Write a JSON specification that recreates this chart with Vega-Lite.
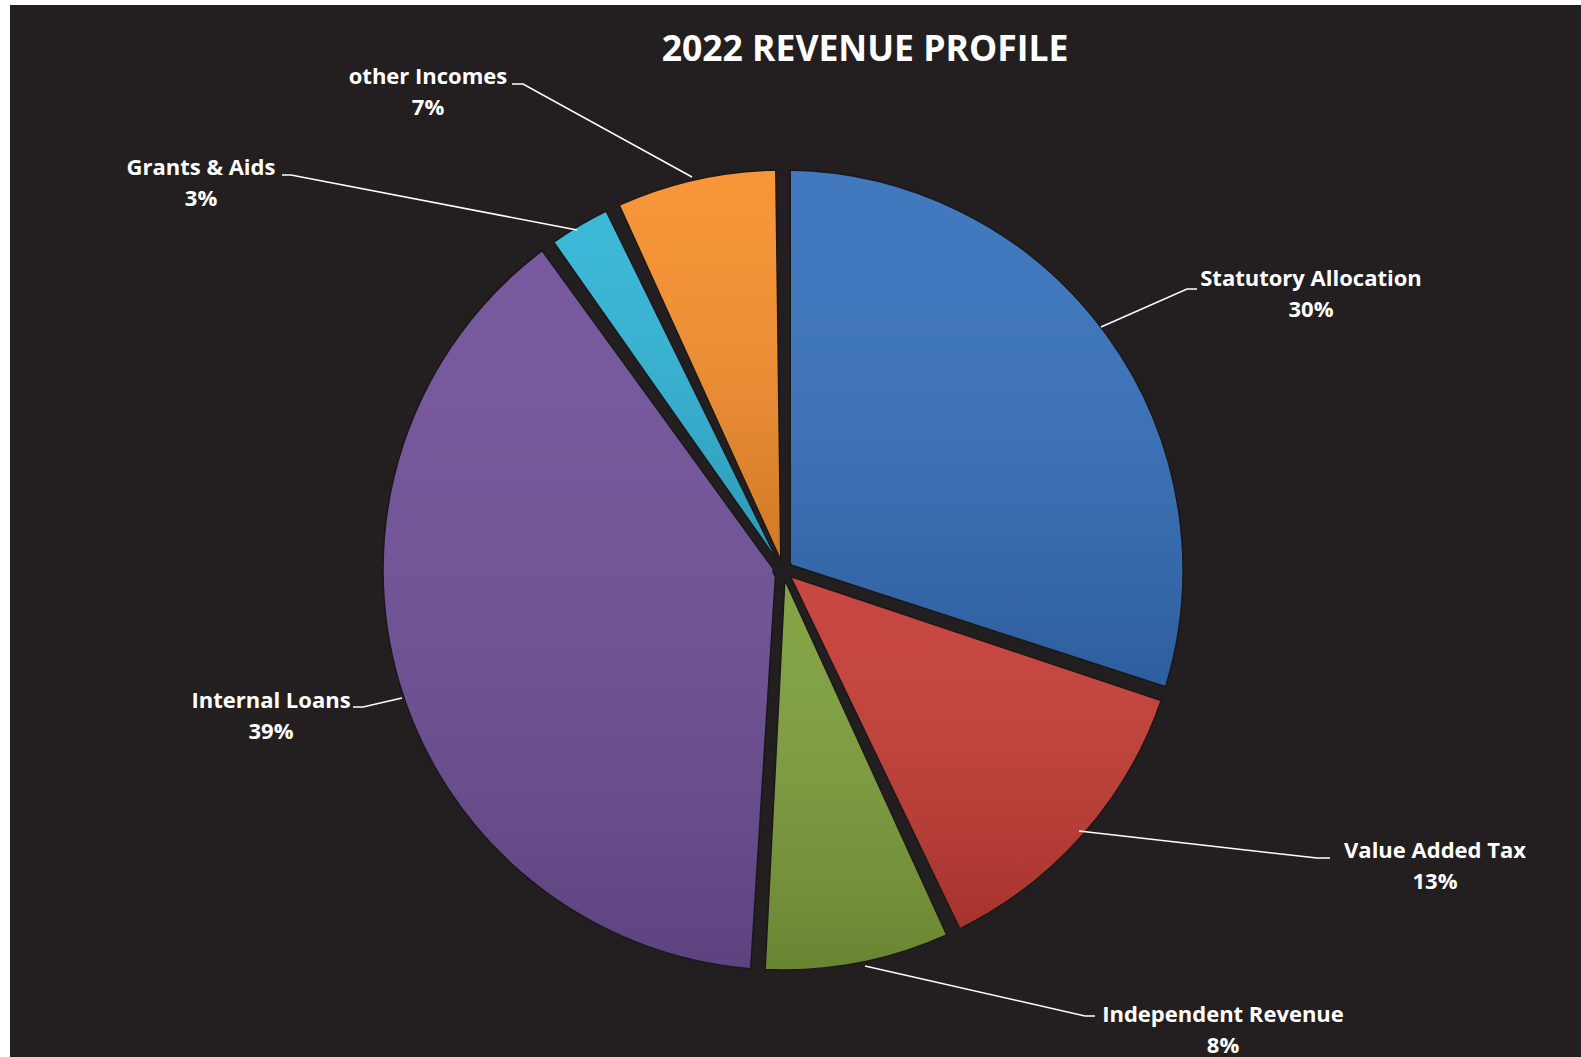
{
  "$schema": "https://vega.github.io/schema/vega-lite/v6.json",
  "width": 1581,
  "height": 1057,
  "autosize": {"type": "fit", "contains": "padding"},
  "padding": {"left": 10, "top": 5, "right": 0, "bottom": 0},
  "background": "#ffffff",
  "config": {"view": {"stroke": null, "fill": "#231f20"}},
  "datasets": {
    "slices": [
      {"name": "Statutory Allocation", "value": 0.30, "idx": 1},
      {"name": "Value Added Tax", "value": 0.13, "idx": 2},
      {"name": "Independent Revenue", "value": 0.08, "idx": 3},
      {"name": "Internal Loans", "value": 0.39, "idx": 4},
      {"name": "Grants & Aids", "value": 0.03, "idx": 5},
      {"name": "other Incomes", "value": 0.07, "idx": 6}
    ],
    "labels": [
      {"name": "Statutory Allocation", "value": 0.30, "lx": 5.28, "ly": 2.91},
      {"name": "Value Added Tax", "value": 0.13, "lx": 6.52, "ly": -2.81},
      {"name": "Independent Revenue", "value": 0.08, "lx": 4.40, "ly": -4.45},
      {"name": "Internal Loans", "value": 0.39, "lx": -5.12, "ly": -1.31},
      {"name": "Grants & Aids", "value": 0.03, "lx": -5.82, "ly": 4.02},
      {"name": "other Incomes", "value": 0.07, "lx": -3.55, "ly": 4.93}
    ],
    "leaders": [
      {"name": "Statutory Allocation", "seq": 1, "x": 4.14, "y": 2.81},
      {"name": "Statutory Allocation", "seq": 2, "x": 4.04, "y": 2.81},
      {"name": "Statutory Allocation", "seq": 3, "x": 3.18, "y": 2.43},
      {"name": "Value Added Tax", "seq": 1, "x": 5.47, "y": -2.88},
      {"name": "Value Added Tax", "seq": 2, "x": 5.34, "y": -2.88},
      {"name": "Value Added Tax", "seq": 3, "x": 2.96, "y": -2.61},
      {"name": "Independent Revenue", "seq": 1, "x": 3.12, "y": -4.46},
      {"name": "Independent Revenue", "seq": 2, "x": 3.02, "y": -4.46},
      {"name": "Independent Revenue", "seq": 3, "x": 0.82, "y": -3.96},
      {"name": "Internal Loans", "seq": 1, "x": -4.30, "y": -1.37},
      {"name": "Internal Loans", "seq": 2, "x": -4.20, "y": -1.37},
      {"name": "Internal Loans", "seq": 3, "x": -3.81, "y": -1.28},
      {"name": "Grants & Aids", "seq": 1, "x": -5.01, "y": 3.95},
      {"name": "Grants & Aids", "seq": 2, "x": -4.92, "y": 3.95},
      {"name": "Grants & Aids", "seq": 3, "x": -2.06, "y": 3.40},
      {"name": "other Incomes", "seq": 1, "x": -2.71, "y": 4.86},
      {"name": "other Incomes", "seq": 2, "x": -2.60, "y": 4.86},
      {"name": "other Incomes", "seq": 3, "x": -0.91, "y": 3.93}
    ],
    "titles": [
      {"title": "2022 REVENUE PROFILE", "tx": 0.82, "ty": 5.205}
    ]
  },
  "layer": [
    {
      "data": {"name": "slices"},
      "mark": {"type": "arc", "outerRadius": 400, "innerRadius": 10, "padAngle": 0.036},
      "encoding": {
        "x": {"datum": 0, "type": "quantitative", "scale": {"domain": [-7.73, 7.98], "nice": false, "zero": false}, "axis": null},
        "y": {"datum": 0, "type": "quantitative", "scale": {"domain": [-4.87, 5.65], "nice": false, "zero": false}, "axis": null},
        "theta": {"field": "value", "type": "quantitative", "stack": true},
        "order": {"field": "idx", "type": "quantitative"},
        "color": {
          "field": "name",
          "type": "nominal",
          "scale": {
            "domain": ["Statutory Allocation", "Value Added Tax", "Independent Revenue", "Internal Loans", "Grants & Aids", "other Incomes"],
            "range": ["#3570bb", "#c53c34", "#7d9e3a", "#6f4f98", "#30b4d6", "#f78f2c"]
          },
          "legend": null
        }
      }
    },
    {
      "data": {"name": "slices"},
      "mark": {
        "type": "arc",
        "outerRadius": 400,
        "innerRadius": 10,
        "padAngle": 0.036,
        "fill": {
          "gradient": "linear",
          "x1": 0, "y1": 0, "x2": 0, "y2": 1,
          "stops": [
            {"offset": 0, "color": "rgba(255,255,255,0.06)"},
            {"offset": 1, "color": "rgba(0,0,0,0.16)"}
          ]
        },
        "stroke": "#1b1819",
        "strokeWidth": 1.5
      },
      "encoding": {
        "x": {"datum": 0, "type": "quantitative", "scale": {"domain": [-7.73, 7.98], "nice": false, "zero": false}, "axis": null},
        "y": {"datum": 0, "type": "quantitative", "scale": {"domain": [-4.87, 5.65], "nice": false, "zero": false}, "axis": null},
        "theta": {"field": "value", "type": "quantitative", "stack": true},
        "order": {"field": "idx", "type": "quantitative"}
      }
    },
    {
      "data": {"name": "leaders"},
      "mark": {"type": "line", "color": "#ffffff", "strokeWidth": 1.5},
      "encoding": {
        "x": {"field": "x", "type": "quantitative", "scale": {"domain": [-7.73, 7.98], "nice": false, "zero": false}, "axis": null},
        "y": {"field": "y", "type": "quantitative", "scale": {"domain": [-4.87, 5.65], "nice": false, "zero": false}, "axis": null},
        "detail": {"field": "name"},
        "order": {"field": "seq", "type": "quantitative"}
      }
    },
    {
      "data": {"name": "labels"},
      "mark": {"type": "text", "font": "Open Sans", "fontWeight": "bold", "fontSize": 22, "color": "#ffffff", "align": "center", "baseline": "middle"},
      "encoding": {
        "x": {"field": "lx", "type": "quantitative", "scale": {"domain": [-7.73, 7.98], "nice": false, "zero": false}, "axis": null},
        "y": {"field": "ly", "type": "quantitative", "scale": {"domain": [-4.87, 5.65], "nice": false, "zero": false}, "axis": null},
        "text": {"field": "name"}
      }
    },
    {
      "data": {"name": "labels"},
      "mark": {"type": "text", "font": "Open Sans", "fontWeight": "bold", "fontSize": 22, "color": "#ffffff", "align": "center", "baseline": "middle", "dy": 31},
      "encoding": {
        "x": {"field": "lx", "type": "quantitative", "scale": {"domain": [-7.73, 7.98], "nice": false, "zero": false}, "axis": null},
        "y": {"field": "ly", "type": "quantitative", "scale": {"domain": [-4.87, 5.65], "nice": false, "zero": false}, "axis": null},
        "text": {"field": "value", "type": "quantitative", "format": ".0%"}
      }
    },
    {
      "data": {"name": "titles"},
      "mark": {"type": "text", "font": "Open Sans", "fontWeight": "bold", "fontSize": 35.5, "color": "#ffffff", "align": "center", "baseline": "middle"},
      "encoding": {
        "x": {"field": "tx", "type": "quantitative", "scale": {"domain": [-7.73, 7.98], "nice": false, "zero": false}, "axis": null},
        "y": {"field": "ty", "type": "quantitative", "scale": {"domain": [-4.87, 5.65], "nice": false, "zero": false}, "axis": null},
        "text": {"field": "title"}
      }
    }
  ]
}
